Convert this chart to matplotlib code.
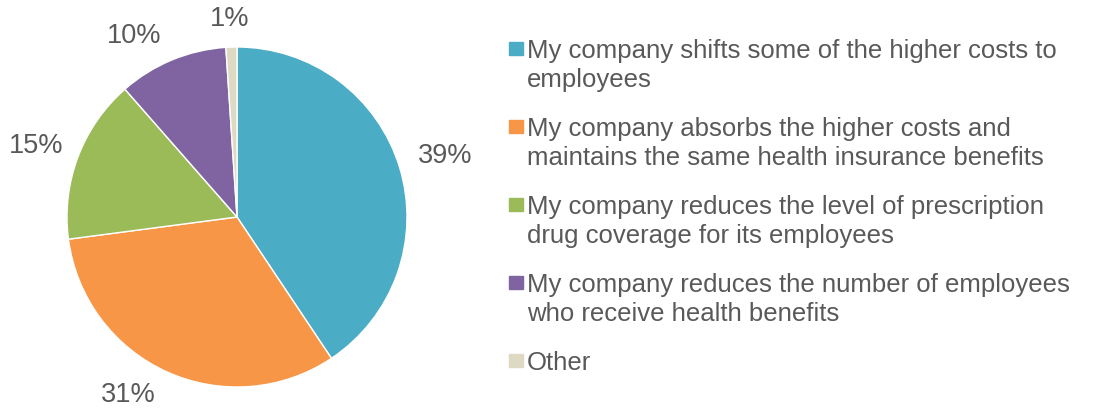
import matplotlib.pyplot as plt
from matplotlib.patches import Rectangle

plt.rcParams['font.family'] = ['Liberation Sans', 'DejaVu Sans']

labels = [
    "My company shifts some of the higher costs to\nemployees",
    "My company absorbs the higher costs and\nmaintains the same health insurance benefits",
    "My company reduces the level of prescription\ndrug coverage for its employees",
    "My company reduces the number of employees\nwho receive health benefits",
    "Other",
]
shares = [39, 31, 15, 10, 1]
colors = ["#4BACC6", "#F79646", "#9BBB59", "#8064A2", "#DDD9C3"]
text_color = "#595959"

# where each percent label sits, in units of the pie radius
label_pos = [(1.224, 0.36), (-0.641, -1.05), (-1.182, 0.415), (-0.606, 1.065), (-0.041, 1.165)]

W, H = 1094, 411
fig = plt.figure(figsize=(W / 100, H / 100), dpi=100)
ax = fig.add_axes([67 / W, 24 / H, 340 / W, 340 / H])

wedges, _ = ax.pie(
    shares,
    colors=colors,
    startangle=90,
    counterclock=False,
    wedgeprops=dict(edgecolor="white", linewidth=1),
)
for v, (x, y) in zip(shares, label_pos):
    ax.text(x, y, f"{v}%", ha="center", va="center", fontsize=19.5,
            color=text_color, clip_on=False)
ax.set_xlim(-1, 1)
ax.set_ylim(-1, 1)
ax.set_aspect("equal")

# legend drawn by hand so the marker sits on the first text line
baseline = 58
for lab, col in zip(labels, colors):
    fig.patches.append(Rectangle((509 / W, 1 - (baseline - 3) / H), 14 / W, 13 / H,
                                 transform=fig.transFigure, color=col))
    for i, line in enumerate(lab.split("\n")):
        fig.text(527 / W, 1 - (baseline + 29 * i) / H, line, fontsize=18.5,
                 color=text_color, va="baseline", ha="left")
    baseline += 78

fig.savefig("out.png", dpi=100)
